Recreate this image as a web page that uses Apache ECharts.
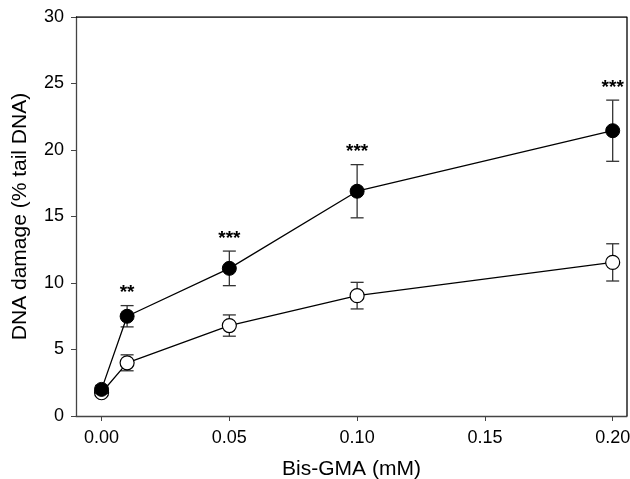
<!DOCTYPE html>
<html>
<head>
<meta charset="utf-8">
<script src="https://cdn.jsdelivr.net/npm/echarts@6/dist/echarts.min.js"></script>
<style>
  html, body { margin: 0; padding: 0; background: #fff; }
  #chart { width: 630px; height: 479px; }
</style>
</head>
<body>
<div id="chart"></div>
<script>
// Bis-GMA concentration (mM)
const doses = [0, 0.01, 0.05, 0.10, 0.20];

// treated group (filled circles)
const filledMean = [2.0, 7.5, 11.1, 16.9, 21.45];
const filledErr = [0.3, 0.8, 1.3, 2.0, 2.3];

// control group (open circles)
const openMean = [1.75, 4.0, 6.8, 9.05, 11.55];
const openErr = [0.2, 0.6, 0.8, 1.0, 1.4];

// significance marks above the filled series
const stars = ['', '**', '***', '***', '***'];

const yTicks = [0, 5, 10, 15, 20, 25, 30];
const xTicks = [0, 0.05, 0.10, 0.15, 0.20];

const font = 'Liberation Sans, Arial, sans-serif';

function pairs(xs, ys) {
    return xs.map((x, i) => [x, ys[i]]);
}

function errorData(xs, ys, es) {
    return xs.map((x, i) => [x, ys[i] - es[i], ys[i] + es[i]]);
}

function renderError(params, api) {
    const x = api.value(0);
    const lo = api.coord([x, api.value(1)]);
    const hi = api.coord([x, api.value(2)]);
    const half = 6.5;
    const style = { stroke: '#333', lineWidth: 1.3 };
    return {
        type: 'group',
        children: [
            { type: 'line', shape: { x1: lo[0], y1: lo[1], x2: hi[0], y2: hi[1] }, style: style },
            { type: 'line', shape: { x1: lo[0] - half, y1: lo[1], x2: lo[0] + half, y2: lo[1] }, style: style },
            { type: 'line', shape: { x1: hi[0] - half, y1: hi[1], x2: hi[0] + half, y2: hi[1] }, style: style }
        ]
    };
}

function renderStar(params, api) {
    const i = params.dataIndex;
    const p = api.coord([api.value(0), api.value(1)]);
    return {
        type: 'text',
        style: {
            x: p[0], y: p[1] - 3,
            text: stars[i],
            fill: '#000',
            font: 'bold 19px ' + font,
            align: 'center',
            verticalAlign: 'bottom'
        }
    };
}

const chart = echarts.init(document.getElementById('chart'), null, { renderer: 'canvas' });

chart.setOption({
    animation: false,
    backgroundColor: '#fff',
    grid: { left: 76, right: 3, top: 17, bottom: 63, containLabel: false, outerBoundsMode: 'none' },
    xAxis: {
        type: 'value',
        min: -0.01,
        max: 0.2056,
        interval: 0.05,
        name: 'Bis-GMA (mM)',
        nameLocation: 'middle',
        nameGap: 43,
        nameTextStyle: { fontFamily: font, fontSize: 21, color: '#000' },
        axisLine: { show: true, onZero: false, lineStyle: { color: '#444', width: 1.3 } },
        axisTick: {
            show: true, length: 5, inside: false,
            customValues: xTicks,
            lineStyle: { color: '#444' }
        },
        axisLabel: {
            customValues: xTicks,
            formatter: v => v.toFixed(2),
            margin: 13,
            fontFamily: font, fontSize: 18, color: '#000'
        },
        splitLine: { show: false }
    },
    yAxis: {
        type: 'value',
        min: 0,
        max: 30,
        interval: 5,
        name: 'DNA damage (% tail DNA)',
        nameLocation: 'middle',
        nameGap: 45,
        nameTextStyle: { fontFamily: font, fontSize: 21, color: '#000' },
        axisLine: { show: true, onZero: false, lineStyle: { color: '#444', width: 1.3 } },
        axisTick: { show: true, length: 5, lineStyle: { color: '#444' } },
        axisLabel: {
            customValues: yTicks,
            margin: 12,
            fontFamily: font, fontSize: 18, color: '#000'
        },
        splitLine: { show: false }
    },
    series: [
        {
            // frame top/right
            type: 'line',
            data: [[-0.01, 30], [0.2056, 30], [0.2056, 0]],
            symbol: 'none',
            lineStyle: { color: '#000', width: 1.3 },
            silent: true,
            z: 1
        },
        {
            type: 'custom',
            renderItem: renderError,
            data: errorData(doses, openMean, openErr),
            z: 2
        },
        {
            type: 'line',
            data: pairs(doses, openMean),
            symbol: 'circle',
            symbolSize: 14,
            itemStyle: { color: '#fff', borderColor: '#000', borderWidth: 1.2 },
            lineStyle: { color: '#000', width: 1.3 },
            z: 3
        },
        {
            type: 'custom',
            renderItem: renderError,
            data: errorData(doses, filledMean, filledErr),
            z: 4
        },
        {
            type: 'line',
            data: pairs(doses, filledMean),
            symbol: 'circle',
            symbolSize: 14,
            itemStyle: { color: '#000', borderColor: '#000', borderWidth: 1 },
            lineStyle: { color: '#000', width: 1.3 },
            z: 5
        },
        {
            type: 'custom',
            renderItem: renderStar,
            data: doses.map((x, i) => [x, filledMean[i] + filledErr[i]]),
            z: 6
        }
    ]
});
</script>
</body>
</html>
